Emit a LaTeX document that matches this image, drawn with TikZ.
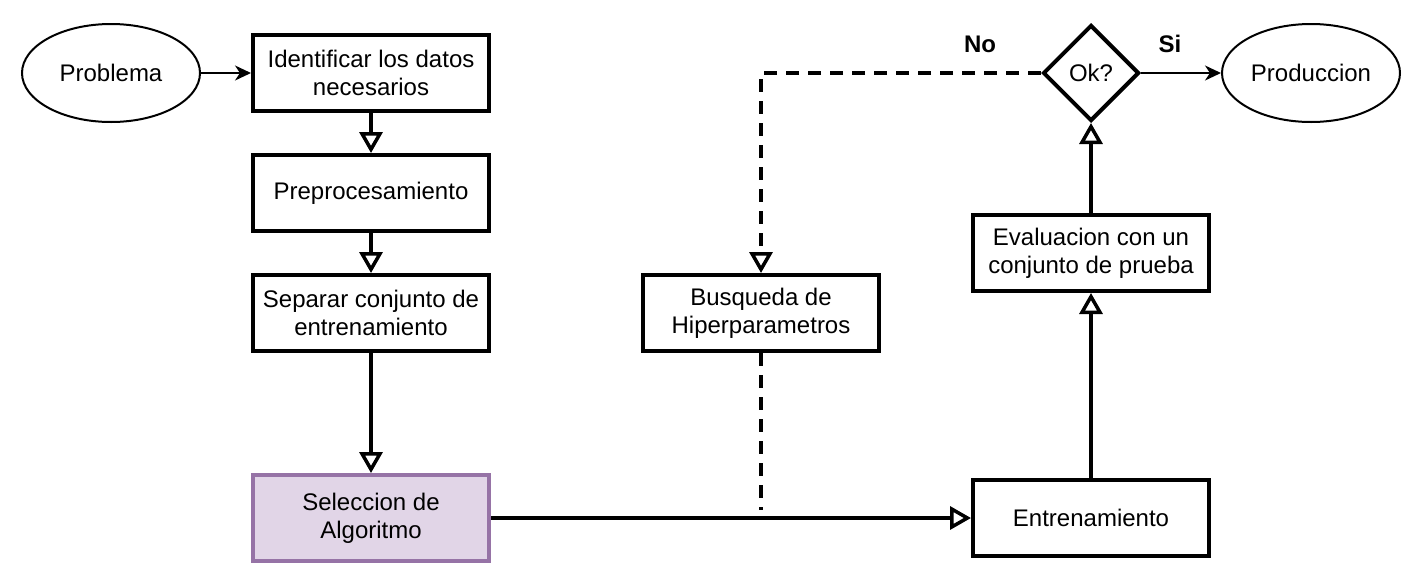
\documentclass[tikz,border=0pt]{standalone}
\usepackage{fontspec}
\setmainfont{Liberation Sans}
\usetikzlibrary{arrows.meta,shapes.geometric}
\definecolor{lilacfill}{HTML}{E1D5E7}
\definecolor{lilacline}{HTML}{9673A6}
\begin{document}
\begin{tikzpicture}[x=1pt,y=-1pt,
  every node/.style={font=\fontsize{24}{28}\selectfont, align=center, inner sep=0pt},
  stepbox/.style={draw, line width=4pt, minimum width=236pt, minimum height=76pt},
  terminal/.style={draw, ellipse, line width=2pt, minimum width=178pt, minimum height=98pt},
  decision/.style={draw, diamond, line width=4pt, minimum width=96pt, minimum height=96pt, aspect=1},
  opentip/.style={-{Triangle[open, length=21pt, width=23pt, line width=3.5pt]}},
  flow/.style={line width=4pt, opentip},
  thinflow/.style={line width=2pt, -{Stealth[length=16pt, width=15pt, inset=5pt]}},
  loopback/.style={line width=4pt, dash pattern=on 13pt off 9pt},
  branch/.style={font=\bfseries\fontsize{24}{28}\selectfont}
]
\useasboundingbox (0,0) rectangle (1422,584);

% process steps
\node[terminal] (problema) at (111,73) {Problema};
\node[stepbox] (datos) at (371,73) {Identificar los datos\\necesarios};
\node[stepbox] (prep) at (371,193) {Preprocesamiento};
\node[stepbox] (separar) at (371,313) {Separar conjunto de\\entrenamiento};
\node[stepbox, draw=lilacline, fill=lilacfill, minimum height=86pt] (seleccion) at (371,518) {Seleccion de\\Algoritmo};
\node[stepbox] (busqueda) at (761,313) {Busqueda de\\Hiperparametros};
\node[stepbox] (entrena) at (1091,518) {Entrenamiento};
\node[stepbox] (evalua) at (1091,253) {Evaluacion con un\\conjunto de prueba};
\node[decision] (ok) at (1091,73) {Ok?};
\node[terminal] (produccion) at (1311,73) {Produccion};

% branch labels of the decision
\node[branch] (no) at (980,44) {No};
\node[branch] (si) at (1170,44) {Si};

\coordinate (joint) at (761,510);

% connectors
\draw[thinflow] (problema) -- (datos);
\draw[flow] (datos) -- (prep);
\draw[flow] (prep) -- (separar);
\draw[flow] (separar) -- (seleccion);
\draw[flow] (seleccion) -- (entrena);
\draw[flow] (entrena) -- (evalua);
\draw[flow] (evalua) -- (ok);
\draw[thinflow] (ok) -- (produccion);
\draw[loopback, opentip] (ok.west) -| (busqueda.north);
\draw[loopback] (busqueda.south) -- (joint);
\end{tikzpicture}
\end{document}
